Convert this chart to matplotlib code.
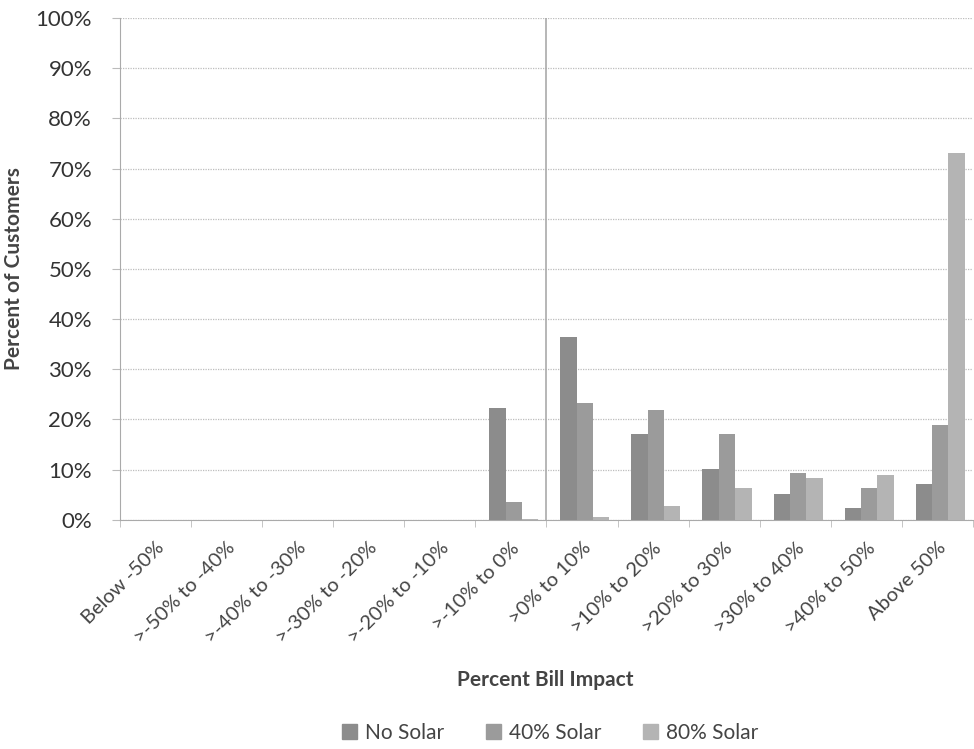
import numpy as np
import matplotlib.pyplot as plt
from matplotlib.patches import Patch

plt.rcParams['font.family'] = ['Lato', 'DejaVu Sans']

categories = ["Below -50%", ">-50% to -40%", ">-40% to -30%", ">-30% to -20%",
              ">-20% to -10%", ">-10% to 0%", ">0% to 10%", ">10% to 20%",
              ">20% to 30%", ">30% to 40%", ">40% to 50%", "Above 50%"]
no_solar = [0, 0, 0, 0, 0, 22.3, 36.5, 17.0, 10.2, 5.2, 2.3, 7.2]
solar_40 = [0, 0, 0, 0, 0, 3.6, 23.2, 21.8, 17.0, 9.3, 6.3, 18.8]
solar_80 = [0, 0, 0, 0, 0, 0.1, 0.5, 2.8, 6.3, 8.4, 8.9, 73.0]

series = [("No Solar", no_solar, "#8c8c8c"),
          ("40% Solar", solar_40, "#9b9b9b"),
          ("80% Solar", solar_80, "#b4b4b4")]

fig = plt.figure(figsize=(9.74, 7.49), dpi=100)
ax = fig.add_axes([0.123, 0.306, 0.876, 0.67])

x = np.arange(len(categories))
w = 0.23
for i, (name, vals, col) in enumerate(series):
    ax.bar(x + (i - 1) * w + 0.04, vals, width=w, color=col, label=name, zorder=3)

ax.set_xlim(-0.5, len(categories) - 0.5)
ax.set_ylim(0, 100)
ax.set_yticks(np.arange(0, 101, 10))
ax.set_yticklabels([f"{v}%" for v in range(0, 101, 10)], fontsize=16, color="#333333")
ax.yaxis.grid(True, color="#bdbdbd", linestyle=(0, (1, 1)), linewidth=0.9, zorder=0)
ax.tick_params(axis="y", length=6, color="#bbbbbb", pad=14)

ax.set_xticks(x)
ax.set_xticklabels(categories, rotation=45, ha="right", rotation_mode="anchor",
                   fontsize=14.5, color="#444444")
ax.tick_params(axis="x", length=0, pad=14)
# small marks between categories
ax.set_xticks(np.arange(-0.5, len(categories), 1), minor=True)
ax.tick_params(axis="x", which="minor", length=5, color="#bbbbbb")

# divider between savings and increases
ax.axvline(5.5, color="#aaaaaa", linewidth=1.2, zorder=2)

for s in ["top", "right"]:
    ax.spines[s].set_visible(False)
ax.spines["left"].set_color("#aaaaaa")
ax.spines["bottom"].set_color("#aaaaaa")

ax.set_ylabel("Percent of Customers", fontsize=15, fontweight="bold", color="#444444", labelpad=8)
fig.text(0.56, 0.092, "Percent Bill Impact", ha="center", va="center", fontsize=15,
         fontweight="bold", color="#444444")

handles = [Patch(color=c, label=n) for n, _, c in series]
fig.legend(handles=handles, loc="center", bbox_to_anchor=(0.565, 0.022), ncol=3,
           frameon=False, fontsize=15, handlelength=0.7, handleheight=0.7,
           columnspacing=2.0, handletextpad=0.4, labelcolor="#444444")

fig.savefig("out.png", dpi=100)
